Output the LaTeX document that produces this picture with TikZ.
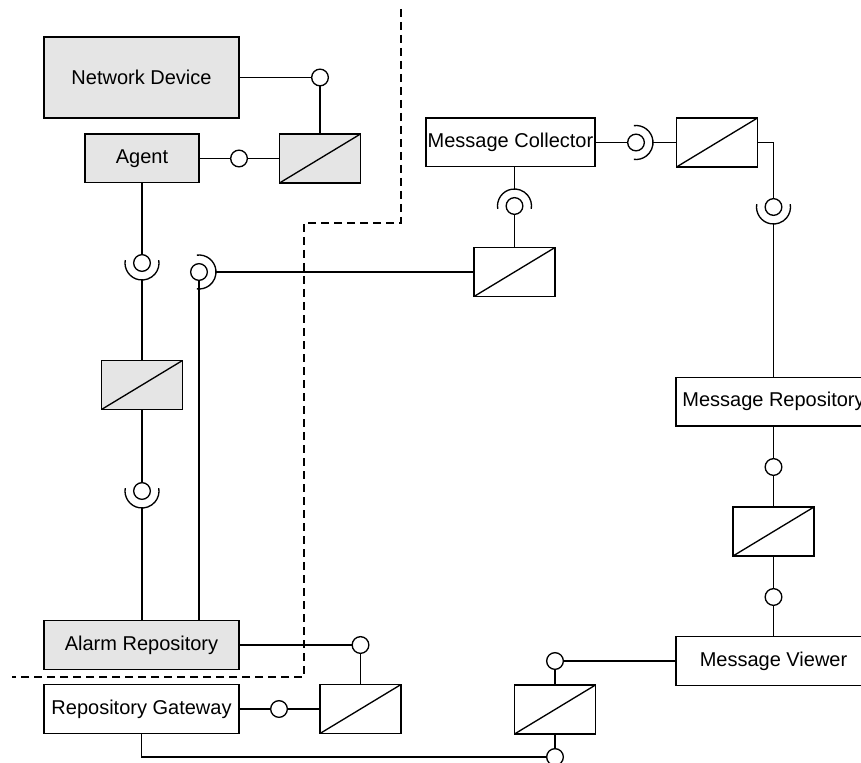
\documentclass[tikz,border=0pt]{standalone}
\usepackage{fontspec}
\setmainfont{Liberation Sans}
\usepackage{tikz}

\tikzset{
  comp/.style={draw, inner sep=0pt, minimum width=146.25pt, minimum height=36.5pt,
    font=\fontsize{15}{18}\selectfont},
  shaded/.style={fill=gray!20},
  adapter/.style={draw, inner sep=0pt, minimum width=60.75pt, minimum height=36.75pt,
    path picture={\draw (path picture bounding box.south west) -- (path picture bounding box.north east);}},
  ball/.style={draw, fill=white, circle, inner sep=0pt, minimum size=12.5pt},
}

\begin{document}
\begin{tikzpicture}[x=0.75pt, y=0.75pt, line width=1pt]
  \useasboundingbox (0,0) rectangle (861,-763);
  \clip (0,0) rectangle (861,-763);

  % boundary
  \draw[dash pattern=on 6pt off 3.75pt] (401,-9) -- (401,-223) -- (304,-223) -- (304,-677) -- (12,-677);

  % left side
  \node[comp, shaded, minimum height=60.75pt] (nd) at (141.5,-77.5) {Network Device};
  \node[comp, shaded, minimum width=85.5pt] (agent) at (142,-158.5) {Agent};
  \node[adapter, shaded] (ad1) at (320,-158.5) {};
  \node[ball] (b1) at (320,-77.5) {};
  \node[ball] (b2) at (239,-158.5) {};
  \node[ball] (s1) at (142,-263) {};
  \node[ball] (s2) at (199,-272) {};
  \node[adapter, shaded] (ad2) at (142,-385) {};
  \node[ball] (s3) at (142,-491) {};
  \node[comp, shaded] (ar) at (141.5,-645) {Alarm Repository};
  \node[comp] (rg) at (141.5,-709) {Repository Gateway};
  \node[ball] (b3) at (360.5,-645) {};
  \node[ball] (b4) at (279,-709) {};
  \node[adapter] (ad3) at (360.5,-709) {};

  % message side
  \node[comp, minimum width=126.75pt] (mc) at (510.5,-142.5) {Message Collector};
  \node[ball] (s5) at (636,-142.5) {};
  \node[adapter] (ad6) at (717,-142.5) {};
  \node[ball] (s6) at (514.5,-206) {};
  \node[adapter] (ad7) at (514.5,-272) {};
  \node[ball] (s4) at (773.5,-207) {};
  \node[comp] (mr) at (773.5,-401.5) {Message Repository};
  \node[ball] (b8) at (773.5,-467) {};
  \node[adapter] (ad5) at (773.5,-531.5) {};
  \node[ball] (b7) at (773.5,-597) {};
  \node[comp] (mv) at (773.5,-661) {Message Viewer};
  \node[ball] (b6) at (555,-661) {};
  \node[adapter] (ad4) at (555,-709.5) {};
  \node[ball] (b5) at (555,-757) {};

  % sockets
  \draw ([shift={(170:12.75pt)}]s1.center) arc (170:370:12.75pt);
  \draw ([shift={(170:12.75pt)}]s3.center) arc (170:370:12.75pt);
  \draw ([shift={(170:12.75pt)}]s4.center) arc (170:370:12.75pt);
  \draw ([shift={(190:12.75pt)}]s6.center) arc (190:-10:12.75pt);
  \draw ([shift={(97:12.75pt)}]s2.center) arc (97:-97:12.75pt);
  \draw ([shift={(97:12.75pt)}]s5.center) arc (97:-97:12.75pt);
  \coordinate (s1o) at ([yshift=-12.75pt]s1.center);
  \coordinate (s3o) at ([yshift=-12.75pt]s3.center);
  \coordinate (s4o) at ([yshift=-12.75pt]s4.center);
  \coordinate (s6o) at ([yshift=12.75pt]s6.center);
  \coordinate (s2o) at ([xshift=12.75pt]s2.center);
  \coordinate (s5o) at ([xshift=12.75pt]s5.center);

  % connectors
  \draw (nd) -- (b1);
  \draw (b1) -- (ad1);
  \draw (agent) -- (b2);
  \draw (b2) -- (ad1);
  \draw (agent) -- (s1);
  \draw (s1o) -- (ad2);
  \draw (ad2) -- (s3);
  \draw (s3o) -- (s3o |- ar.north);
  \draw (s2) -- (s2 |- ar.north);
  \draw (s2o) -- (ad7);
  \draw (ar) -- (b3);
  \draw (b3) -- (ad3);
  \draw (rg) -- (b4);
  \draw (b4) -- (ad3);
  \draw (rg) |- (b5);
  \draw (s6o |- mc.south) -- (s6o);
  \draw (s6) -- (ad7);
  \draw (mc) -- (s5);
  \draw (s5o) -- (ad6);
  \draw (ad6.east) -| (s4);
  \draw (s4o) -- (mr);
  \draw (mr) -- (b8);
  \draw (b8) -- (ad5);
  \draw (ad5) -- (b7);
  \draw (b7) -- (mv);
  \draw (mv) -- (b6);
  \draw (b6) -- (ad4);
  \draw (ad4) -- (b5);
\end{tikzpicture}
\end{document}
